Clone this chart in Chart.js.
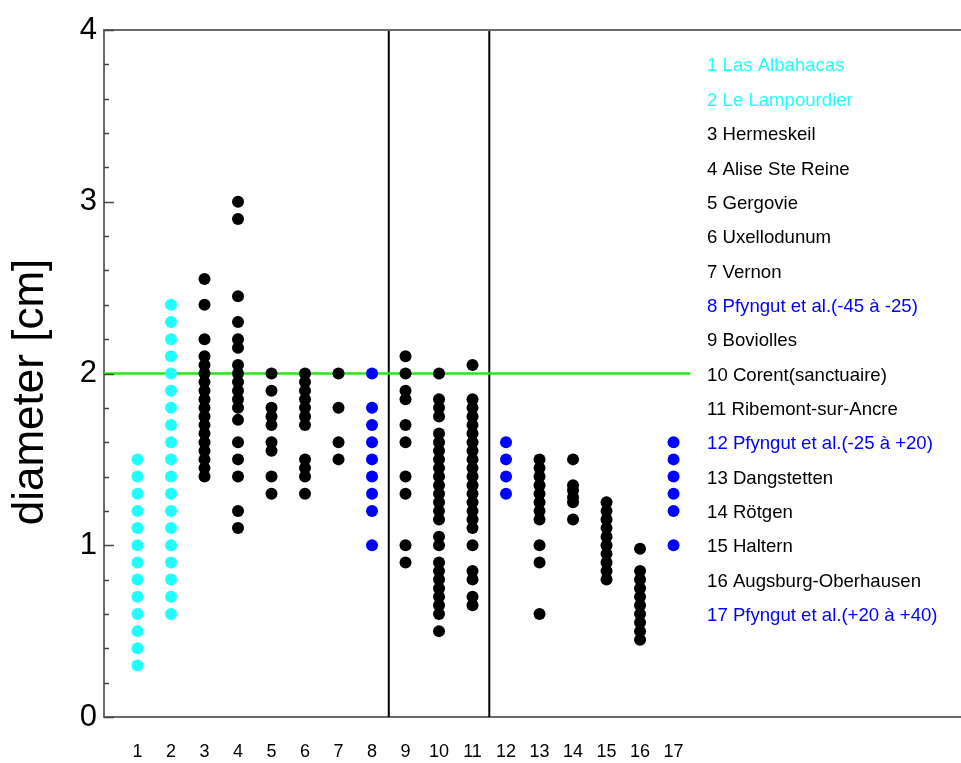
<!DOCTYPE html>
<html>
<head>
<meta charset="utf-8">
<script src="https://cdn.jsdelivr.net/npm/chart.js@4.4.1/dist/chart.umd.min.js"></script>
<style>
  html, body { margin: 0; padding: 0; background: #fff; overflow: hidden; }
  #wrap { width: 961px; height: 763px; }
</style>
</head>
<body>
<div id="wrap"><canvas id="chart" width="961" height="763"></canvas></div>
<script>
"use strict";

// sites, numbered 1..17 along the x axis
const siteNames = [
    'Las Albahacas', 'Le Lampourdier', 'Hermeskeil', 'Alise Ste Reine', 'Gergovie',
    'Uxellodunum', 'Vernon', 'Pfyngut et al.(-45 à -25)', 'Boviolles', 'Corent(sanctuaire)',
    'Ribemont-sur-Ancre', 'Pfyngut et al.(-25 à +20)', 'Dangstetten', 'Rötgen', 'Haltern',
    'Augsburg-Oberhausen', 'Pfyngut et al.(+20 à +40)'
];
const CYAN = '#20ffff', BLUE = '#0000ff', BLACK = '#000000';
const siteColors = [
    CYAN, CYAN, BLACK, BLACK, BLACK, BLACK, BLACK, BLUE, BLACK, BLACK,
    BLACK, BLUE, BLACK, BLACK, BLACK, BLACK, BLUE
];

// measured diameters [cm], one list per site
const diam01 = [1.5, 1.4, 1.3, 1.2, 1.1, 1.0, 0.9, 0.8, 0.7, 0.6, 0.5, 0.4, 0.3];
const diam02 = [2.4, 2.3, 2.2, 2.1, 2.0, 1.9, 1.8, 1.7, 1.6, 1.5, 1.4, 1.3, 1.2, 1.1, 1.0, 0.9, 0.8, 0.7, 0.6];
const diam03 = [2.55, 2.4, 2.2, 2.1, 2.05, 2.0, 1.95, 1.9, 1.85, 1.8, 1.75, 1.7, 1.65, 1.6, 1.55, 1.5, 1.45, 1.4];
const diam04 = [3.0, 2.9, 2.45, 2.3, 2.2, 2.15, 2.05, 2.0, 1.95, 1.9, 1.85, 1.8, 1.73, 1.6, 1.5, 1.4, 1.2, 1.1];
const diam05 = [2.0, 1.9, 1.8, 1.75, 1.7, 1.6, 1.55, 1.4, 1.3];
const diam06 = [2.0, 1.95, 1.9, 1.85, 1.8, 1.75, 1.7, 1.5, 1.45, 1.4, 1.3];
const diam07 = [2.0, 1.8, 1.6, 1.5];
const diam08 = [2.0, 1.8, 1.7, 1.6, 1.5, 1.4, 1.3, 1.2, 1.0];
const diam09 = [2.1, 2.0, 1.9, 1.85, 1.7, 1.6, 1.4, 1.3, 1.0, 0.9];
const diam10 = [2.0, 1.85, 1.8, 1.75, 1.65, 1.6, 1.55, 1.5, 1.45, 1.4, 1.35, 1.3, 1.25, 1.2, 1.15,
                1.05, 1.0, 0.9, 0.85, 0.8, 0.75, 0.7, 0.65, 0.6, 0.5];
const diam11 = [2.05, 1.85, 1.8, 1.75, 1.7, 1.65, 1.6, 1.55, 1.5, 1.45, 1.4, 1.35, 1.3, 1.25, 1.2,
                1.15, 1.1, 1.0, 0.85, 0.8, 0.7, 0.65];
const diam12 = [1.6, 1.5, 1.4, 1.3];
const diam13 = [1.5, 1.45, 1.4, 1.35, 1.3, 1.25, 1.2, 1.15, 1.0, 0.9, 0.6];
const diam14 = [1.5, 1.35, 1.32, 1.28, 1.25, 1.15];
const diam15 = [1.25, 1.2, 1.15, 1.1, 1.05, 1.0, 0.95, 0.9, 0.85, 0.8];
const diam16 = [0.98, 0.85, 0.8, 0.75, 0.7, 0.65, 0.6, 0.55, 0.5, 0.45];
const diam17 = [1.6, 1.5, 1.4, 1.3, 1.2, 1.0];
const diameters = [diam01, diam02, diam03, diam04, diam05, diam06, diam07, diam08, diam09,
                   diam10, diam11, diam12, diam13, diam14, diam15, diam16, diam17];

// ticks
const xTickLabels = [1, 2, 3, 4, 5, 6, 7, 8, 9, 10, 11, 12, 13, 14, 15, 16, 17];
const yMajorTicks = [0, 1, 2, 3, 4];
const yMinorTicks = [0.2, 0.4, 0.6, 0.8, 1.2, 1.4, 1.6, 1.8, 2.2, 2.4, 2.6, 2.8, 3.2, 3.4, 3.6, 3.8];

// reference line at 2 cm, and period separators
const refDiameter = 2;
const refSpan = [0, 17.5];
const periodBreaks = [8.5, 11.5];

const FONT = '"Liberation Sans", Arial, Helvetica, sans-serif';
const AXIS_GREY = '#6a6a6a';

// one scatter dataset per site
var datasets = diameters.map(function (vals, i) {
    return {
        label: siteNames[i],
        data: vals.map(function (v) { return { x: i + 1, y: v }; }),
        backgroundColor: siteColors[i],
        borderWidth: 0,
        pointRadius: 6,
        order: 1
    };
});

datasets.push({
    label: 'ref',
    type: 'line',
    data: refSpan.map(function (x) { return { x: x, y: refDiameter }; }),
    borderColor: '#22ea10',
    borderWidth: 2.5,
    pointRadius: 0,
    order: 5
});
periodBreaks.forEach(function (xb) {
    datasets.push({
        label: 'break',
        type: 'line',
        data: [{ x: xb, y: 0 }, { x: xb, y: 4 }],
        borderColor: BLACK,
        borderWidth: 2,
        pointRadius: 0,
        order: 5
    });
});

// extra decorations: top frame, inward y ticks, site list, y title
const decorations = {
    id: 'decorations',
    afterDraw: function (chart) {
        var ctx = chart.ctx;
        var area = chart.chartArea;
        var xs = chart.scales.x;
        var ys = chart.scales.y;

        ctx.save();
        ctx.strokeStyle = AXIS_GREY;
        ctx.lineWidth = 2;
        ctx.beginPath();
        ctx.moveTo(area.left, area.top);
        ctx.lineTo(area.right, area.top);
        ctx.stroke();

        ctx.strokeStyle = '#444';
        ctx.lineWidth = 1.5;
        ctx.beginPath();
        yMajorTicks.forEach(function (v) {
            var py = Math.round(ys.getPixelForValue(v)) + 0.5;
            ctx.moveTo(area.left, py);
            ctx.lineTo(area.left + 10, py);
        });
        yMinorTicks.forEach(function (v) {
            var py = Math.round(ys.getPixelForValue(v)) + 0.5;
            ctx.moveTo(area.left, py);
            ctx.lineTo(area.left + 5, py);
        });
        ctx.stroke();

        // numbered site list, one row per 0.2 cm
        ctx.font = '18.6px ' + FONT;
        ctx.textAlign = 'left';
        ctx.textBaseline = 'middle';
        siteNames.forEach(function (name, i) {
            ctx.fillStyle = siteColors[i];
            ctx.fillText((i + 1) + ' ' + name,
                xs.getPixelForValue(18), ys.getPixelForValue(3.8 - 0.2 * i) + 2);
        });

        ctx.fillStyle = BLACK;
        ctx.font = '44px ' + FONT;
        ctx.textAlign = 'center';
        ctx.translate(31, 392);
        ctx.rotate(-Math.PI / 2);
        ctx.fillText('diameter [cm]', 0, 0);
        ctx.restore();
    }
};

new Chart(document.getElementById('chart').getContext('2d'), {
    type: 'scatter',
    data: { datasets: datasets },
    options: {
        responsive: false,
        animation: false,
        events: [],
        layout: { autoPadding: false, padding: { top: 30, right: 0, left: 0, bottom: 0 } },
        plugins: {
            legend: { display: false },
            tooltip: { enabled: false }
        },
        scales: {
            x: {
                type: 'linear',
                min: 0,
                max: 25.58,
                grid: { display: false, drawTicks: false },
                border: { display: true, color: AXIS_GREY, width: 2 },
                ticks: {
                    color: BLACK,
                    font: { family: FONT, size: 18 },
                    padding: 24,
                    autoSkip: false,
                    maxRotation: 0
                },
                afterBuildTicks: function (scale) {
                    scale.ticks = xTickLabels.map(function (v) { return { value: v }; });
                },
                afterFit: function (scale) {
                    scale.height = 46;
                    scale.paddingLeft = 0;
                    scale.paddingRight = 0;
                }
            },
            y: {
                type: 'linear',
                min: 0,
                max: 4,
                grid: { display: false, drawTicks: false },
                border: { display: true, color: AXIS_GREY, width: 2 },
                ticks: {
                    color: BLACK,
                    font: { family: FONT, size: 31 },
                    padding: 7
                },
                afterBuildTicks: function (scale) {
                    scale.ticks = yMajorTicks.map(function (v) { return { value: v }; });
                },
                afterFit: function (scale) { scale.width = 104; }
            }
        }
    },
    plugins: [decorations]
});
</script>
</body>
</html>
